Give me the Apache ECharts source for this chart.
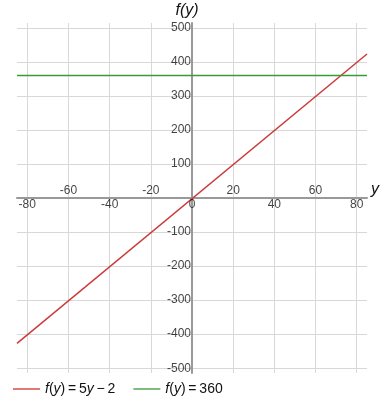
<!DOCTYPE html>
<html>
<head>
<meta charset="utf-8">
<script src="https://cdn.jsdelivr.net/npm/echarts@6/dist/echarts.min.js"></script>
<style>html,body{margin:0;padding:0;background:#fff}#c{width:384px;height:409px}</style>
</head>
<body>
<div id="c"></div>
<script>
// Data
var xRange = [-85, 85];
var yRange = [-514, 514];
var xTicks = [-80, -60, -40, -20, 0, 20, 40, 60, 80];
var xLabelsBelow = [-80, -40, 0, 40, 80];
var xLabelsAbove = [-60, -20, 20, 60];
var yTicks = [-500, -400, -300, -200, -100, 0, 100, 200, 300, 400, 500];
var yLabels = [-500, -400, -300, -200, -100, 100, 200, 300, 400, 500];
var lineA = [[-85, -427], [85, 423]];   // f(y) = 5y - 2
var lineB = [[-85, 360], [85, 360]];    // f(y) = 360
var seriesNames = ['A', 'B'];
var T = '\u2009';
var seriesLabels = {
  A: '{i|f}({i|y})' + T + '=' + T + '5{i|y}' + T + '\u2212' + T + '2',
  B: '{i|f}({i|y})' + T + '=' + T + '360'
};

var FONT = '"Liberation Sans", Arial, sans-serif';
var chart = echarts.init(document.getElementById('c'), null, {renderer: 'canvas'});
function tickLabelSeries(name, data, pos, fmt) {
  return {
    name: name, type: 'scatter', symbolSize: 0, silent: true, z: 5,
    itemStyle: {color: 'rgba(0,0,0,0)'},
    data: data,
    label: {show: true, position: pos, distance: 1, formatter: fmt,
      color: '#111', fontSize: 12, fontFamily: FONT}
  };
}
chart.setOption({
  animation: false,
  grid: {left: 17, right: 17, top: 23, bottom: 36, containLabel: false, outerBoundsMode: 'none'},
  xAxis: {
    type: 'value', min: xRange[0], max: xRange[1],
    name: 'y', nameLocation: 'end', nameGap: 4,
    nameTextStyle: {fontStyle: 'italic', fontSize: 16, color: '#111', fontFamily: FONT, verticalAlign: 'bottom'},
    axisLine: {onZero: true, lineStyle: {color: '#999', width: 2}},
    axisTick: {show: false, customValues: xTicks},
    axisLabel: {show: false, customValues: xTicks},
    splitLine: {show: true, lineStyle: {color: '#d8d8d8', width: 1}}
  },
  yAxis: {
    type: 'value', min: yRange[0], max: yRange[1],
    name: '{i|f(y)}', nameLocation: 'end', nameGap: 4,
    nameTextStyle: {fontSize: 16, color: '#111', fontFamily: FONT, padding: [0, 10, 0, 0], rich: {i: {fontStyle: 'italic', fontSize: 16, fontFamily: FONT, color: '#111'}}},
    axisLine: {onZero: true, lineStyle: {color: '#999', width: 2}},
    axisTick: {show: false, customValues: yTicks},
    axisLabel: {show: false, customValues: yTicks},
    splitLine: {show: true, lineStyle: {color: '#d8d8d8', width: 1}}
  },
  legend: {
    left: 13, top: 382, padding: 0, itemGap: 18, itemWidth: 27, itemHeight: 2, icon: 'rect',
    data: [{name: seriesNames[0], itemStyle: {color: '#e07a7a'}}, {name: seriesNames[1], itemStyle: {color: '#80bb80'}}],
    formatter: function (n) { return seriesLabels[n]; },
    textStyle: {fontSize: 14, color: '#111', fontFamily: FONT,
      rich: {i: {fontStyle: 'italic', fontSize: 14, fontFamily: FONT, color: '#111'}}}
  },
  series: [{
    name: 'A', type: 'line', data: lineA, showSymbol: false, symbol: 'none',
    color: '#cc3b3b', lineStyle: {width: 1.5, color: '#cc3b3b'}
  }, {
    name: 'B', type: 'line', data: lineB, showSymbol: false, symbol: 'none',
    color: '#3a9a3a', lineStyle: {width: 1.5, color: '#3a9a3a'}
  },
  tickLabelSeries('xBelow', xLabelsBelow.map(function (v) { return [v, 0]; }), 'bottom', function (p) { return String(p.value[0]); }),
  tickLabelSeries('xAbove', xLabelsAbove.map(function (v) { return [v, 0]; }), 'top', function (p) { return String(p.value[0]); }),
  tickLabelSeries('yLeft', yLabels.map(function (v) { return [0, v]; }), 'left', function (p) { return String(p.value[1]); })
  ]
});
</script>
</body>
</html>
